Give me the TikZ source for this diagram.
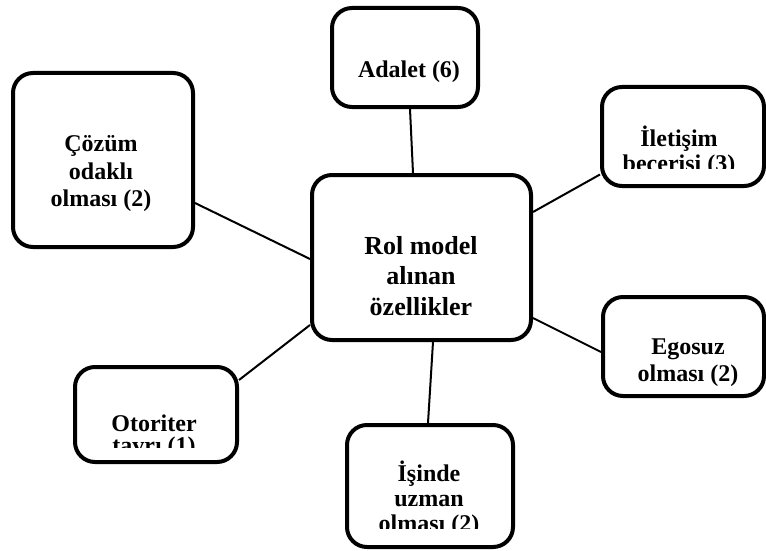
\documentclass[tikz,border=0pt]{standalone}
\usepackage{fontspec}
\setmainfont{Liberation Serif}
\usetikzlibrary{positioning}

\tikzset{
  kutu/.style={draw, line width=4pt, rounded corners=20pt, inner sep=0pt},
  yazi/.style={align=center, inner sep=0pt, font=\bfseries\fontsize{24}{#1}\selectfont},
  yazi/.default=27pt,
  bag/.style={line width=2pt}
}

\begin{document}
\begin{tikzpicture}[x=1pt,y=-1pt]
\useasboundingbox (0,0) rectangle (766,551);

% kutular
\node[kutu, minimum width=219pt, minimum height=165pt] (rol) at (421.5,257.5) {};
\node[kutu, minimum width=146pt, minimum height=99pt] (adalet) at (405,57.5) {};
\node[kutu, minimum width=180pt, minimum height=174pt] (cozum) at (103,160) {};
\node[kutu, minimum width=162pt, minimum height=99pt] (iletisim) at (683,136.5) {};
\node[kutu, minimum width=161pt, minimum height=99pt] (egosuz) at (683.5,346.5) {};
\node[kutu, minimum width=162pt, minimum height=95pt] (otoriter) at (156,414.5) {};
\node[kutu, minimum width=166pt, minimum height=122pt] (isinde) at (430,486) {};

% yazilar
\node[align=center, inner sep=0pt, font=\bfseries\fontsize{26}{30.5pt}\selectfont] (rolT) at (421,276) {Rol model\\alınan\\özellikler};
\node[yazi] (adaletT) at (409,72) {Adalet (6)};
\node[yazi=27.5pt] (cozumT) at (101,174) {Çözüm\\odaklı\\olması (2)};
\node[yazi] (egosuzT) at (688,363) {Egosuz\\olması (2)};
\begin{scope}
\clip (600,95) rectangle (766,168);
\node[yazi=25pt] (iletisimT) at (679,151) {İletişim\\becerisi (3)};
\end{scope}
\begin{scope}
\clip (80,380) rectangle (235,447);
\node[yazi=21.5pt] (otoriterT) at (154,436.5) {Otoriter\\tavrı (1)};
\end{scope}
\begin{scope}
\clip (350,440) rectangle (510,528);
\node[yazi=25pt] (isindeT) at (429,499) {İşinde\\uzman\\olması (2)};
\end{scope}

% baglar
\draw[bag] ([xshift=5pt]adalet.south) -- ([xshift=-8.5pt]rol.north);
\draw[bag] ([yshift=-43pt]cozum.east) -- ([yshift=-1.5pt]rol.west);
\draw[bag] ([yshift=45.5pt]rol.east) -- ([yshift=-38pt]iletisim.west);
\draw[bag] ([yshift=-60.5pt]rol.east) -- ([yshift=-5.5pt]egosuz.west);
\draw[bag] ([yshift=-67.5pt]rol.west) -- ([yshift=34.5pt]otoriter.east);
\draw[bag] ([xshift=11.5pt]rol.south) -- ([xshift=-2pt]isinde.north);
\end{tikzpicture}
\end{document}
